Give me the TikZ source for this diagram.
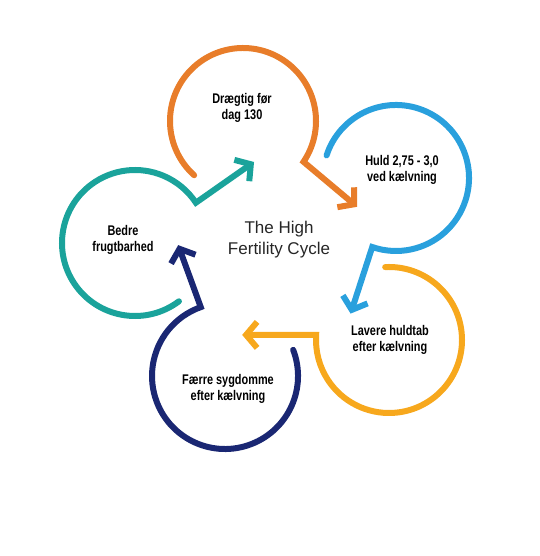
\documentclass[tikz,border=0pt]{standalone}
\usepackage{fontspec}
\setmainfont{Liberation Sans}
\newfontfamily\stagefont[FakeStretch=0.78]{Liberation Sans}
\usetikzlibrary{arrows.meta}

\definecolor{pregorange}{RGB}{232,125,42}
\definecolor{huldblue}{RGB}{41,160,221}
\definecolor{tabamber}{RGB}{247,168,29}
\definecolor{sygnavy}{RGB}{26,39,115}
\definecolor{frugtteal}{RGB}{26,163,155}

\begin{document}
\begin{tikzpicture}[x=1pt, y=1pt,
    cyclearc/.style={line width=6pt, line cap=round,
        -{Straight Barb[length=11pt, width=26pt, sharp]}},
    stagetext/.style={align=center, inner sep=0pt,
        font=\stagefont\bfseries\fontsize{14}{16.5}\selectfont}]

        \useasboundingbox (0,0) rectangle (539,556);

        % -----------------------
        % 1. Drægtig (orange)
        % -----------------------
        \coordinate (preg) at (243, 435);
        \coordinate (pregS) at ([shift={(228:73)}]preg);
        \coordinate (pregC) at ([shift={(-34:73)}]preg);
        \coordinate (pregT) at ([shift={(-40:70)}]pregC);
        \node[stagetext] (pregtxt) at (242, 448) {Drægtig før\\dag 130};
        \draw[cyclearc, pregorange] (pregS) arc[start angle=228, end angle=-34, radius=73] -- (pregT);

        % -----------------------
        % 2. Huld (blue)
        % -----------------------
        \coordinate (huld) at (396, 378);
        \coordinate (huldS) at ([shift={(162:73)}]huld);
        \coordinate (huldC) at ([shift={(-109:73)}]huld);
        \coordinate (huldT) at ([shift={(-108:70)}]huldC);
        \node[stagetext] (huldtxt) at (402, 386) {Huld 2,75 - 3,0\\ved kælvning};
        \draw[cyclearc, huldblue] (huldS) arc[start angle=162, end angle=-109, radius=73] -- (huldT);

        % -----------------------
        % 3. Huldtab (amber)
        % -----------------------
        \coordinate (tab) at (389, 216);
        \coordinate (tabS) at ([shift={(93:73)}]tab);
        \coordinate (tabC) at ([shift={(-184:73)}]tab);
        \coordinate (tabT) at ([shift={(180:74)}]tabC);
        \node[stagetext] (tabtxt) at (390, 216) {Lavere huldtab\\efter kælvning};
        \draw[cyclearc, tabamber] (tabS) arc[start angle=93, end angle=-184, radius=73] -- (tabT);

        % -----------------------
        % 4. Sygdomme (navy)
        % -----------------------
        \coordinate (syg) at (225, 180);
        \coordinate (sygS) at ([shift={(21:73)}]syg);
        \coordinate (sygC) at ([shift={(-250.6:73)}]syg);
        \coordinate (sygT) at ([shift={(110:66)}]sygC);
        \node[stagetext] (sygtxt) at (228, 167) {Færre sygdomme\\efter kælvning};
        \draw[cyclearc, sygnavy] (sygS) arc[start angle=21, end angle=-250.6, radius=73] -- (sygT);

        % -----------------------
        % 5. Frugtbarhed (teal)
        % -----------------------
        \coordinate (frugt) at (135, 313);
        \coordinate (frugtS) at ([shift={(-53:73)}]frugt);
        \coordinate (frugtC) at ([shift={(-326.5:73)}]frugt);
        \coordinate (frugtT) at ([shift={(35:71)}]frugtC);
        \node[stagetext] (frugttxt) at (123, 316) {Bedre\\frugtbarhed};
        \draw[cyclearc, frugtteal] (frugtS) arc[start angle=-53, end angle=-326.5, radius=73] -- (frugtT);

        % -----------------------
        % Centre title
        % -----------------------
        \node[align=center, inner sep=0pt, text=black!85,
              font=\fontsize{17}{21}\selectfont] (title) at (279, 316) {The High\\Fertility Cycle};

    \end{tikzpicture}
\end{document}
